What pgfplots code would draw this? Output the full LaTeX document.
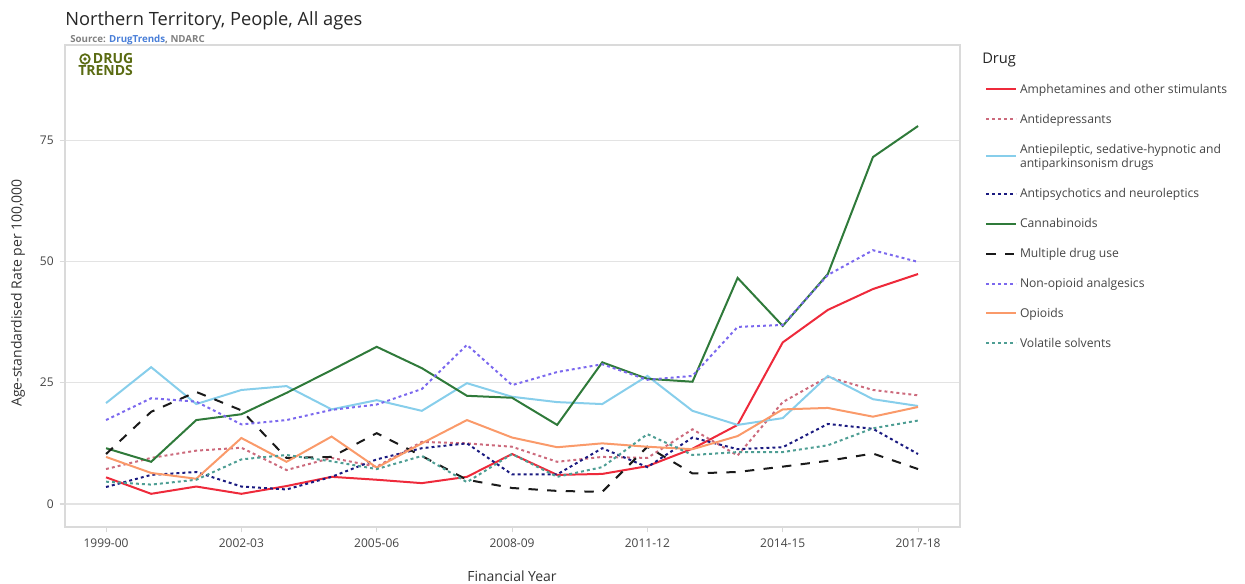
\documentclass[border=0pt]{standalone}
\usepackage{fontspec}
\setmainfont{Open Sans}
\usepackage{pgfplots}
\pgfplotsset{compat=1.18}
\usepackage{pgfplotstable}

\definecolor{camph}{HTML}{EE2A3B}
\definecolor{cantidep}{HTML}{CC6A7C}
\definecolor{cantiepi}{HTML}{87CEEB}
\definecolor{cantipsy}{HTML}{1A1A80}
\definecolor{ccanna}{HTML}{2F7A3A}
\definecolor{cmulti}{HTML}{1A1A1A}
\definecolor{cnonop}{HTML}{7B68EE}
\definecolor{copi}{HTML}{FA9A6A}
\definecolor{cvol}{HTML}{4E9E94}
\definecolor{bordergray}{HTML}{DADADA}
\definecolor{gridgray}{HTML}{E3E3E3}
\definecolor{ticktext}{HTML}{444444}
\definecolor{logoolive}{HTML}{5A6B12}
\definecolor{srcblue}{HTML}{4A7FD8}

\pgfplotstableread{
x amph antidep antiepi antipsy canna multi nonop opi vol
0 5.5 7.2 20.8 3.5 11.5 10.3 17.3 9.7 4.6
1 2.1 9.5 28.2 6.0 8.7 19.0 21.8 6.4 4.0
2 3.6 11.0 20.6 6.6 17.3 23.1 21.1 5.2 5.0
3 2.1 11.6 23.5 3.6 18.5 19.3 16.4 13.6 9.2
4 3.7 7.0 24.3 3.0 22.9 9.5 17.3 8.7 10.1
5 5.6 9.5 19.5 5.6 27.6 9.7 19.4 13.9 8.8
6 5.0 7.7 21.4 9.2 32.4 14.6 20.5 7.5 7.2
7 4.3 12.8 19.2 11.5 28.0 9.9 23.7 12.5 9.9
8 5.6 12.5 24.9 12.5 22.3 5.0 32.8 17.3 4.5
9 10.3 11.8 22.1 6.1 21.9 3.3 24.5 13.7 10.3
10 6.0 8.7 21.0 6.1 16.3 2.7 27.2 11.7 5.6
11 6.2 9.7 20.6 11.5 29.2 2.5 28.8 12.5 7.6
12 7.8 9.5 26.4 7.6 25.8 11.8 25.6 11.8 14.4
13 11.4 15.4 19.2 13.7 25.2 6.3 26.4 11.3 10.1
14 16.3 10.0 16.3 11.3 46.6 6.6 36.5 14.0 10.7
15 33.3 21.0 17.7 11.7 36.7 7.7 36.9 19.5 10.7
16 40.0 26.2 26.4 16.5 47.4 8.9 47.2 19.8 12.1
17 44.3 23.5 21.6 15.5 71.5 10.4 52.3 18.0 15.6
18 47.4 22.4 20.2 10.3 77.9 7.2 49.9 20.0 17.2
}\data

\begin{document}
\begin{tikzpicture}
\path[use as bounding box] (0,0) rectangle (933.75pt,437.25pt);
\begin{axis}[
  at={(48.75pt,42pt)}, anchor=south west,
  scale only axis, width=671.25pt, height=361.5pt,
  xmin=-0.91, xmax=18.93, ymin=-4.74, ymax=94.6,
  axis line style={draw=bordergray, line width=1.1pt},
  xtick={0,3,...,18},
  xticklabels={1999-00,2002-03,2005-06,2008-09,2011-12,2014-15,2017-18},
  ytick={0,25,50,75},
  xtick pos=bottom, ytick pos=left,
  tick align=outside, major tick length=4pt,
  tick style={draw=bordergray, line width=0.8pt},
  ymajorgrids, grid style={draw=gridgray, line width=0.8pt},
  ticklabel style={font=\fontsize{9}{11}\selectfont, text=ticktext},
  /pgf/number format/assume math mode=true,
  xticklabel style={yshift=-1pt},
  yticklabel style={xshift=-1pt},
  legend style={draw=none, fill=none, inner sep=0pt, at={(1.028,0.927)}, anchor=north west,
    row sep=9.25pt, font=\fontsize{9.1}{11}\selectfont, text=ticktext,
    cells={anchor=west, align=left}},
  legend image code/.code={\draw[#1] (0pt,0pt) -- (22.5pt,0pt);},
  every axis plot/.append style={line width=1.5pt},
]
\addplot[camph, solid] table[x=x,y=amph]{\data};
\addlegendentry{Amphetamines and other stimulants\strut}
\addplot[cantidep, dash pattern=on 2.2pt off 2.3pt] table[x=x,y=antidep]{\data};
\addlegendentry{Antidepressants\strut}
\addplot[cantiepi, solid] table[x=x,y=antiepi]{\data};
\addlegendentry{Antiepileptic, sedative-hypnotic and\strut\\antiparkinsonism drugs\strut}
\addplot[cantipsy, dash pattern=on 2.2pt off 2.3pt] table[x=x,y=antipsy]{\data};
\addlegendentry{Antipsychotics and neuroleptics\strut}
\addplot[ccanna, solid] table[x=x,y=canna]{\data};
\addlegendentry{Cannabinoids\strut}
\addplot[cmulti, dash pattern=on 7pt off 7pt] table[x=x,y=multi]{\data};
\addlegendentry{Multiple drug use\strut}
\addplot[cnonop, dash pattern=on 2.2pt off 2.3pt] table[x=x,y=nonop]{\data};
\addlegendentry{Non-opioid analgesics\strut}
\addplot[copi, solid] table[x=x,y=opi]{\data};
\addlegendentry{Opioids\strut}
\addplot[cvol, dash pattern=on 2.2pt off 2.3pt] table[x=x,y=vol]{\data};
\addlegendentry{Volatile solvents\strut}
\end{axis}
% titles and labels
\node[anchor=base west, inner sep=0pt, text=black!85, font=\fontsize{13.7}{16}\selectfont] at (48.75pt,417.75pt) {Northern Territory, People, All ages};
\node[anchor=base west, inner sep=0pt, font=\fontsize{7.3}{8}\selectfont\bfseries] at (52.5pt,405pt) {\textcolor{black!50}{Source:} \textcolor{srcblue}{DrugTrends}\textcolor{black!50}{, NDARC}};
% logo
\draw[logoolive, line width=1.3pt] (63.75pt,393pt) circle (3.6pt);
\fill[logoolive] (63.75pt,393pt) circle (1.4pt);
\node[anchor=base west, inner sep=0pt, text=logoolive, font=\fontsize{10.5}{10}\selectfont\bfseries] at (69.5pt,389.25pt) {DRUG};
\node[anchor=base west, inner sep=0pt, text=logoolive, font=\fontsize{10.5}{10}\selectfont\bfseries] at (58.5pt,380.25pt) {TRENDS};
% axis labels
\node[rotate=90, inner sep=0pt, text=black!80, font=\fontsize{10.5}{12}\selectfont] at (13.5pt,217.5pt) {Age-standardised Rate per 100,000};
\node[anchor=base, inner sep=0pt, text=black!80, font=\fontsize{10.5}{12}\selectfont] at (384pt,1.5pt) {Financial Year};
% legend title
\node[anchor=base west, inner sep=0pt, text=black!85, font=\fontsize{11}{13}\selectfont] at (736.5pt,389.25pt) {Drug};
\end{tikzpicture}
\end{document}
